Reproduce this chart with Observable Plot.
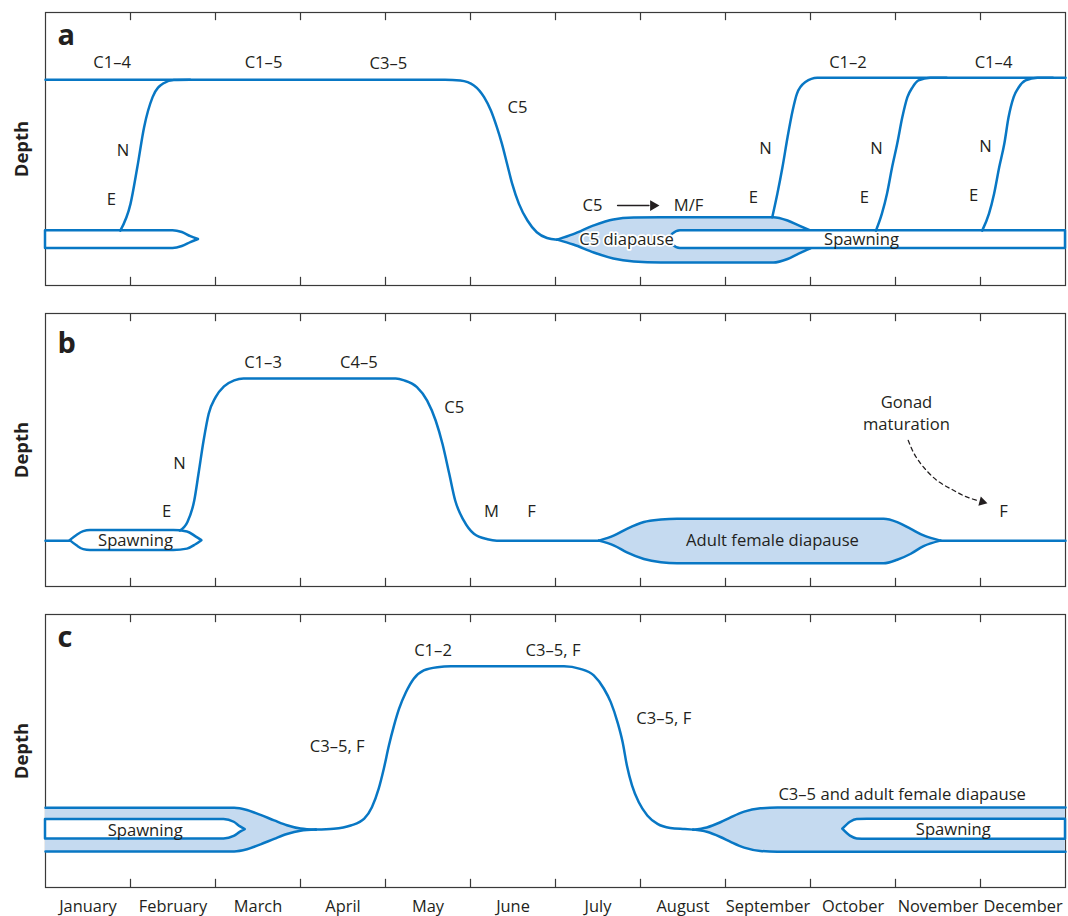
<!DOCTYPE html>
<html><head><meta charset="utf-8">
<script src="https://cdn.jsdelivr.net/npm/d3@7"></script>
<script src="https://cdn.jsdelivr.net/npm/@observablehq/plot@0.6"></script>
<style>
html,body{margin:0;padding:0;background:#fff;}
#chart{width:1068px;height:916px;}
</style></head><body><div id="chart"></div>
<script>
// ---- categories / ticks ----
const months = ["January","February","March","April","May","June","July","August","September","October","November","December"];
const panels = ["a","b","c"];
const monthBoundaries = [1,2,3,4,5,6,7,8,9,10,11];
const monthCenters = [0.5,1.5,2.5,3.5,4.5,5.5,6.5,7.5,8.5,9.5,10.5,11.5];

// ---- panel a : [month, depth] (depth 0 = top of panel, 100 = bottom) ----
const aMain = [[0,24.6],[4.7,24.6],[4.88,24.9],[5.04,26.7],[5.16,31.0],[5.24,35.9],[5.31,42.0],[5.37,48.1],[5.43,55.4],[5.49,62.7],[5.57,70.1],[5.67,76.2],[5.78,80.5],[5.9,82.6],[6.02,83.2]];
const aRise1 = [[0.88,79.9],[1.0,70.1],[1.08,56.7],[1.16,42.0],[1.26,31.0],[1.39,25.9],[1.51,24.7],[1.7,24.6]];
const aRise2 = [[8.55,75.0],[8.61,66.4],[8.67,56.7],[8.73,45.7],[8.79,35.9],[8.84,29.8],[8.94,25.5],[9.08,23.9],[12,23.9]];
const aRise3 = [[9.77,79.9],[9.84,73.7],[9.9,66.4],[9.96,56.7],[10.02,48.1],[10.08,38.4],[10.14,31.0],[10.2,27.4],[10.27,24.9],[10.41,23.9],[10.6,23.9]];
const aRise4 = [[11.02,79.9],[11.1,73.7],[11.16,66.4],[11.22,56.7],[11.28,48.1],[11.33,38.4],[11.39,31.0],[11.45,27.4],[11.53,24.9],[11.67,23.9],[11.85,23.9]];
// [month, upper depth, lower depth]
const aDiapause = [[6.02,83.2,83.2],[6.21,81.2,85.0],[6.45,78.0,87.9],[6.68,75.8,90.1],[6.92,75.1,91.2],[7.24,75.0,91.6],[8.56,75.0,91.6],[8.73,76.2,90.3],[8.86,78.0,88.3],[9.0,79.9,86.4]];
const aSpawnL = [[0,79.9,86.4],[1.5,79.9,86.4],[1.61,80.6,85.7],[1.71,82.1,84.3],[1.8,83.15,83.15]];
const aSpawnR = [[7.33,83.15,83.15],[7.38,81.2,85.1],[7.47,79.9,86.4],[12,79.9,86.4]];

// ---- panel b ----
const bLineL = [[0,83.2],[0.29,83.2]];
const bMain = [[1.58,79.5],[1.67,76.4],[1.75,68.5],[1.8,58.7],[1.86,46.5],[1.92,36.7],[2.0,30.7],[2.1,26.7],[2.22,24.5],[2.33,23.8],[4.12,23.8],[4.22,24.5],[4.37,27.0],[4.49,31.9],[4.59,39.2],[4.67,47.7],[4.75,58.7],[4.82,68.5],[4.92,75.8],[5.04,80.7],[5.2,82.7],[5.31,83.2],[6.51,83.2]];
const bLineR = [[10.53,83.2],[12,83.2]];
const bSpawn = [[0.29,83.2,83.2],[0.37,81.3,85.1],[0.45,79.9,86.5],[0.53,79.5,86.8],[1.51,79.5,86.8],[1.67,80.0,86.3],[1.77,81.8,84.7],[1.84,83.2,83.2]];
const bDiapause = [[6.51,83.2,83.2],[6.69,81.3,85.0],[6.84,78.9,87.5],[7.04,76.4,89.9],[7.24,75.5,91.1],[7.43,75.2,91.5],[9.86,75.2,91.5],[10.02,76.4,90.2],[10.18,78.9,88.0],[10.33,81.3,85.2],[10.53,83.2,83.2]];
const bGonadArrow = [[10.15,46.5],[10.22,51.4],[10.33,56.3],[10.49,61.2],[10.65,64.2],[10.8,66.7],[10.96,68.5]];
const bGonadHead = [[11.02,69.0]];

// ---- panel c ----
const cMain = [[3.18,78.8],[3.39,78.5],[3.59,77.3],[3.75,74.8],[3.84,70.6],[3.92,63.8],[3.98,56.5],[4.04,48.0],[4.1,40.7],[4.16,34.5],[4.24,28.5],[4.33,23.6],[4.45,20.5],[4.61,19.3],[4.77,19.0],
  [6.1,19.0],[6.29,19.9],[6.45,22.3],[6.57,27.2],[6.65,32.1],[6.73,39.5],[6.79,46.8],[6.84,55.3],[6.9,62.6],[6.98,68.8],[7.08,73.6],[7.2,76.7],[7.35,78.2],[7.52,78.6],[7.62,78.8]];
const cDiapauseL = [[0,70.8,86.8],[2.22,70.8,86.8],[2.37,71.6,86.0],[2.53,73.4,84.2],[2.69,75.4,82.2],[2.84,77.2,80.4],[3.0,78.4,79.2],[3.18,78.8,78.8]];
const cDiapauseR = [[7.62,78.8,78.8],[7.78,78.0,79.6],[7.94,76.1,81.5],[8.06,74.3,83.3],[8.22,72.2,85.4],[8.41,71.0,86.6],[8.61,70.7,86.9],[12,70.7,86.9]];
const cSpawnL = [[0,75.1,82.2],[2.1,75.1,82.2],[2.22,76.1,81.3],[2.29,77.7,79.8],[2.35,78.8,78.8]];
const cSpawnR = [[9.38,78.65,78.65],[9.47,76.1,81.2],[9.55,75.1,82.2],[9.67,75.0,82.3],[12,75.0,82.3]];

// ---- annotations: [panel, text, month, depth] ----
const panelLetters = [["a","a",0.141,11.8],["b","b",0.141,14.4],["c","c",0.141,12.0]];
const labelsA = [["a","C1–4",0.785,18.4],["a","C1–5",2.565,18.4],["a","C3–5",4.035,18.6],["a","C5",5.553,34.8],
  ["a","N",0.912,50.5],["a","E",0.776,68.5],["a","C5",6.435,70.7],["a","M/F",7.565,70.7],
  ["a","N",8.471,49.8],["a","E",8.329,67.8],["a","N",9.776,49.8],["a","E",9.635,67.8],
  ["a","N",11.059,49.1],["a","E",10.918,67.0],["a","C1–2",9.441,18.4],["a","C1–4",11.153,18.4],["a","Spawning",9.6,83.2]];
const haloLabels = [["a","C5 diapause",6.835,83.2]];
const labelsB = [["b","C1–3",2.559,17.9],["b","C4–5",3.688,17.9],["b","C5",4.808,34.4],["b","N",1.576,54.9],["b","E",1.424,72.5],
  ["b","M",5.247,72.5],["b","F",5.718,72.5],["b","Spawning",1.059,83.2],["b","Adult female diapause",8.553,83.2],
  ["b","Gonad",10.129,32.5],["b","maturation",10.129,40.7],["b","F",11.27,72.5]];
const labelsC = [["c","C3–5, F",3.432,48.6],["c","C1–2",4.559,13.2],["c","C3–5, F",5.971,13.2],["c","C3–5, F",7.274,38.2],
  ["c","C3–5 and adult female diapause",10.078,65.9],["c","Spawning",1.173,79.1],["c","Spawning",10.68,78.8]];
const aArrow = [[6.73,70.7],[7.1,70.7]];
const aArrowHead = [[7.15,70.7]];

// ---- build rows ----
const BLUE = "#0877c4", FILL = "#c5daf0", INK = "#231f20", FRAME = "#3a3a3a";
const SW = 2.5, FS = 16.6;
const path = (arr, fy, id) => arr.map(([x, y]) => ({x, y, fy, id}));
const band = (arr, fy, id) => arr.map(([x, y1, y2]) => ({x, y1, y2, fy, id}));
const txt = arr => arr.map(([fy, t, x, y]) => ({fy, t, x, y}));

const lensRows = [...band(aDiapause,"a","aD"), ...band(bDiapause,"b","bD"), ...band(cDiapauseL,"c","cDL"), ...band(cDiapauseR,"c","cDR")];
const spawnRows = [...band(aSpawnL,"a","aSL"), ...band(aSpawnR,"a","aSR"), ...band(bSpawn,"b","bS"), ...band(cSpawnL,"c","cSL"), ...band(cSpawnR,"c","cSR")];
const pathRows = [...path(aMain,"a","a0"), ...path(aRise1,"a","a1"), ...path(aRise2,"a","a2"), ...path(aRise3,"a","a3"), ...path(aRise4,"a","a4"),
  ...path(bLineL,"b","bL"), ...path(bMain,"b","bM"), ...path(bLineR,"b","bR"), ...path(cMain,"c","cM")];
const labelRows = txt([...labelsA, ...labelsB, ...labelsC]);

const curve = "monotone-x";
const chart = Plot.plot({
  width: 1068, height: 916,
  marginLeft: 45, marginRight: 3, marginTop: 12, marginBottom: 29,
  x: {domain: [0, 12]},
  y: {domain: [0, 100], reverse: true, axis: null},
  fy: {domain: panels, axis: null, paddingInner: 0.093, paddingOuter: 0, round: false},
  style: {fontFamily: "'Open Sans', sans-serif", fontSize: "16px", color: INK, background: "#fff"},
  marks: [
    Plot.frame({stroke: FRAME, strokeWidth: 1.2}),
    Plot.ruleX(monthBoundaries, {y1: 0, y2: 3, stroke: FRAME, strokeWidth: 1.2}),
    Plot.ruleX(monthBoundaries, {y1: 97, y2: 100, stroke: FRAME, strokeWidth: 1.2}),
    Plot.axisX(monthCenters, {tickSize: 0, tickPadding: 13, tickFormat: d => months[Math.floor(d)], label: null, fontSize: 16.4, fill: INK}),
    Plot.text(["Depth"], {frameAnchor: "left", dx: -23, rotate: -90, textAnchor: "middle", fontWeight: "bold", fontSize: 18.5, fill: INK}),
    // diapause lenses
    Plot.areaY(lensRows, {x: "x", y1: "y1", y2: "y2", z: "id", fy: "fy", fill: FILL, curve}),
    Plot.lineY(lensRows, {x: "x", y: "y1", z: "id", fy: "fy", stroke: BLUE, strokeWidth: SW, curve}),
    Plot.lineY(lensRows, {x: "x", y: "y2", z: "id", fy: "fy", stroke: BLUE, strokeWidth: SW, curve}),
    // spawning bands
    Plot.areaY(spawnRows, {x: "x", y1: "y1", y2: "y2", z: "id", fy: "fy", fill: "white", stroke: BLUE, strokeWidth: SW, curve}),
    // vertical migration paths
    Plot.line(pathRows, {x: "x", y: "y", z: "id", fy: "fy", stroke: BLUE, strokeWidth: SW, curve}),
    // arrows
    Plot.line(path(aArrow,"a","arr"), {x: "x", y: "y", fy: "fy", stroke: INK, strokeWidth: 1.3}),
    Plot.dot(path(aArrowHead,"a","arrh"), {x: "x", y: "y", fy: "fy", symbol: "triangle", r: 4, rotate: 90, fill: INK}),
    Plot.line(path(bGonadArrow,"b","g"), {x: "x", y: "y", fy: "fy", stroke: INK, strokeWidth: 1.3, strokeDasharray: "4,3.5", curve: "natural"}),
    Plot.dot(path(bGonadHead,"b","gh"), {x: "x", y: "y", fy: "fy", symbol: "triangle", r: 3.5, rotate: 105, fill: INK}),
    // labels
    Plot.text(labelRows, {x: "x", y: "y", fy: "fy", text: "t", fill: INK, fontSize: FS}),
    Plot.text(txt(haloLabels), {x: "x", y: "y", fy: "fy", text: "t", fill: INK, fontSize: FS, stroke: "white", strokeWidth: 3.5}),
    Plot.text(txt(panelLetters), {x: "x", y: "y", fy: "fy", text: "t", fill: INK, fontSize: 29, fontWeight: "bold", textAnchor: "start", lineAnchor: "bottom"})
  ]
});
document.getElementById("chart").appendChild(chart);
</script>
</body></html>
